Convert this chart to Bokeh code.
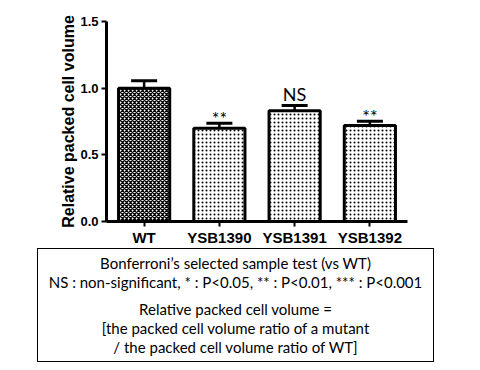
from bokeh.plotting import figure
from bokeh.models import (ColumnDataSource, FactorRange, Range1d, FixedTicker,
                          Whisker, TeeHead, NumeralTickFormatter, Div)
from bokeh.layouts import column
from bokeh.embed import file_html
from bokeh.resources import INLINE
from bokeh.core.properties import value

# ---- data ----
strains = ["WT", "YSB1390", "YSB1391", "YSB1392"]
pcv = [1.00, 0.70, 0.83, 0.72]
sem = [0.055, 0.037, 0.04, 0.032]
sig = ["", "**", "NS", "**"]
y_ticks = [0.0, 0.5, 1.0, 1.5]
y_label = "Relative packed cell volume"
note_lines = [
    "Bonferroni\u2019s selected sample test (vs WT)",
    "NS : non-significant, * : P<0.05, ** : P<0.01, *** : P<0.001",
    "Relative packed cell volume =",
    "[the packed cell volume ratio of a mutant",
    "/ the packed cell volume ratio of WT]",
]

AX_FONT = "Liberation Sans"
NOTE_FONT = "Lato"

src = ColumnDataSource(dict(
    x=strains,
    top=pcv,
    upper=[v + e for v, e in zip(pcv, sem)],
))

p = figure(x_range=FactorRange(factors=strains), y_range=Range1d(0, 1.5),
           frame_width=301, frame_height=200, output_backend="svg",
           toolbar_location=None,
           min_border_left=106, min_border_right=57, min_border_top=21,
           min_border_bottom=26)
p.outline_line_color = None
p.xgrid.grid_line_color = None
p.ygrid.grid_line_color = None
p.background_fill_color = "white"

common = dict(width=0.68, fill_color="white", line_color="black", line_width=3,
              hatch_color="black")
p.vbar(x=strains[:1], top=pcv[:1], hatch_pattern="x", hatch_scale=4,
       hatch_weight=1.3, **common)
p.vbar(x=strains[1:], top=pcv[1:], hatch_pattern=".", hatch_scale=4,
       hatch_weight=0.6, **common)

p.add_layout(Whisker(base="x", upper="upper", lower="top", source=src,
                     dimension="height", line_width=2.5, line_color="black",
                     upper_head=TeeHead(size=26, line_width=3, line_color="black"),
                     lower_head=None))

ast_src = ColumnDataSource(dict(
    x=[s for s, g in zip(strains, sig) if g == "**"],
    y=[v + e for v, e, g in zip(pcv, sem, sig) if g == "**"],
    t=[g for g in sig if g == "**"]))
ns_src = ColumnDataSource(dict(
    x=[s for s, g in zip(strains, sig) if g == "NS"],
    y=[v + e for v, e, g in zip(pcv, sem, sig) if g == "NS"],
    t=[g for g in sig if g == "NS"]))
p.text(x="x", y="y", text="t", source=ast_src, text_align="center",
       text_baseline="alphabetic", text_font=value(NOTE_FONT),
       text_font_size="18px", text_color="black", y_offset=-5)
p.text(x="x", y="y", text="t", source=ns_src, text_align="center",
       text_baseline="alphabetic", text_font=value(NOTE_FONT),
       text_font_size="18px", text_color="black", y_offset=-12)

for ax in (p.xaxis[0], p.yaxis[0]):
    ax.axis_line_width = 3
    ax.axis_line_color = "black"
    ax.major_tick_line_width = 2
    ax.major_tick_line_color = "black"
    ax.major_tick_in = 0
    ax.major_tick_out = 5
    ax.minor_tick_in = 0
    ax.minor_tick_out = 0
    ax.major_label_text_color = "black"
    ax.major_label_text_font = AX_FONT
    ax.major_label_text_font_style = "bold"

p.xaxis.major_label_text_font_size = "15px"
p.xaxis.major_label_standoff = 2
p.yaxis.major_label_text_font_size = "13px"
p.yaxis.major_label_standoff = 3
p.yaxis.ticker = FixedTicker(ticks=y_ticks)
p.yaxis.formatter = NumeralTickFormatter(format="0.0")
p.yaxis.axis_label = y_label
p.yaxis.axis_label_text_font = AX_FONT
p.yaxis.axis_label_text_font_style = "bold"
p.yaxis.axis_label_text_font_size = "16px"
p.yaxis.axis_label_text_color = "black"
p.yaxis.axis_label_standoff = 0

# ---- note box ----
note_html = (
    '<div style="box-sizing:border-box;margin-left:32px;margin-top:-5px;'
    'width:397px;height:114px;'
    'border:1px solid #000;font-family:Lato;font-size:15px;line-height:19px;'
    'text-align:center;color:#000;padding-top:5px;white-space:nowrap;">'
    + note_lines[0] + "<br>" + note_lines[1]
    + '<div style="height:8px"></div>'
    + note_lines[2] + "<br>" + note_lines[3] + "<br>" + note_lines[4]
    + "</div>"
)
note = Div(text=note_html.replace("<0", "&lt;0"), width=464, height=112)

layout = column(p, note, spacing=0)
open("out.html", "w").write(file_html(layout, INLINE))
